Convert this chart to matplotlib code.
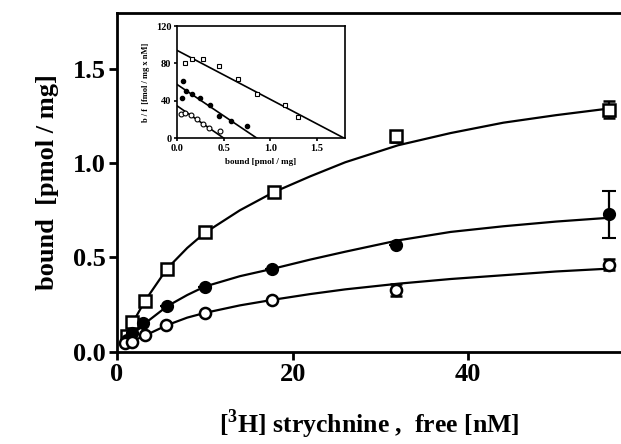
import matplotlib.pyplot as plt

plt.rcParams['font.family'] = ['Liberation Serif', 'DejaVu Serif']
plt.rcParams['font.weight'] = 'bold'
plt.rcParams['mathtext.fontset'] = 'custom'
plt.rcParams['mathtext.rm'] = 'Liberation Serif'
plt.rcParams['mathtext.bf'] = 'Liberation Serif:bold'

# saturation data (free nM vs bound pmol/mg)
sq_x = [1.1, 1.75, 3.2, 5.7, 10, 17.85, 31.8, 56]
sq_y = [0.082, 0.155, 0.27, 0.437, 0.632, 0.845, 1.143, 1.285]
sq_err = [0, 0, 0, 0, 0, 0, 0.03, 0.045]

fc_x = [1.1, 1.75, 3.0, 5.7, 10, 17.7, 31.8, 56]
fc_y = [0.06, 0.10, 0.15, 0.241, 0.345, 0.437, 0.568, 0.728]
fc_err = [0, 0, 0, 0, 0, 0, 0, 0.125]

oc_x = [0.9, 1.75, 3.2, 5.6, 10, 17.7, 31.8, 56]
oc_y = [0.045, 0.05, 0.09, 0.139, 0.204, 0.273, 0.327, 0.462]
oc_err = [0, 0, 0, 0, 0, 0, 0.03, 0.03]

# fitted curves
curve_x = [1.0, 1.75, 3.2, 5.7, 8, 10, 14, 17.8, 22, 26, 32, 38, 44, 50, 56]
sq_curve = [0.07, 0.15, 0.27, 0.44, 0.55, 0.63, 0.75, 0.845, 0.93, 1.005, 1.095, 1.16, 1.215, 1.255, 1.29]
fc_curve = [0.05, 0.09, 0.15, 0.24, 0.30, 0.345, 0.40, 0.44, 0.488, 0.53, 0.59, 0.635, 0.665, 0.69, 0.71]
oc_curve = [0.035, 0.055, 0.085, 0.14, 0.18, 0.205, 0.245, 0.275, 0.305, 0.33, 0.36, 0.385, 0.405, 0.425, 0.44]

# Scatchard inset (bound pmol/mg vs b/f)
sc_sq_x = [0.084, 0.164, 0.276, 0.45, 0.65, 0.86, 1.16, 1.30]
sc_sq_y = [80.7, 85, 85, 77, 63, 47, 35, 22.5]
sc_fc_x = [0.055, 0.065, 0.095, 0.156, 0.25, 0.356, 0.45, 0.575, 0.75]
sc_fc_y = [43, 61, 50, 47.5, 43, 35, 24, 18, 13]
sc_oc_x = [0.047, 0.087, 0.145, 0.21, 0.28, 0.34, 0.465]
sc_oc_y = [26, 27, 25, 20, 15, 11, 8]
sc_sq_line = ([0, 1.79], [94, 0])
sc_fc_line = ([0, 0.855], [57.5, 0])
sc_oc_line = ([0, 0.5], [34.6, 0])

fig = plt.figure(figsize=(6.21, 4.44), dpi=100)
ax = fig.add_axes([0.1884, 0.2083, 0.8116, 0.7635])

for cx, cy in [(curve_x, sq_curve), (curve_x, fc_curve), (curve_x, oc_curve)]:
    ax.plot(cx, cy, color='black', linewidth=1.6, zorder=2)

ax.errorbar(sq_x, sq_y, yerr=sq_err, fmt='s', color='black', mfc='white', mec='black',
            mew=1.8, markersize=8, capsize=4, elinewidth=1.6, capthick=1.6, zorder=3)
ax.errorbar(fc_x, fc_y, yerr=fc_err, fmt='o', color='black', mfc='black', mec='black',
            mew=1.5, markersize=8, capsize=5, elinewidth=1.6, capthick=1.6, zorder=3)
ax.errorbar(oc_x, oc_y, yerr=oc_err, fmt='o', color='black', mfc='white', mec='black',
            mew=1.8, markersize=8, capsize=4, elinewidth=1.6, capthick=1.6, zorder=3)

ax.set_xlim(0, 57.4)
ax.set_ylim(0, 1.8)
ax.set_xticks([0, 20, 40])
ax.set_yticks([0.0, 0.5, 1.0, 1.5])
ax.set_yticklabels(['0.0', '0.5', '1.0', '1.5'])
ax.spines['right'].set_visible(False)
for s in ['left', 'bottom', 'top']:
    ax.spines[s].set_linewidth(2)
ax.tick_params(width=2, length=6, labelsize=19, pad=2)
for lab in ax.get_xticklabels() + ax.get_yticklabels():
    lab.set_fontweight('bold')
ax.set_ylabel('bound  [pmol / mg]', fontsize=19, fontweight='bold', labelpad=10)
ax.set_xlabel(r'[$^{\mathbf{3}}$H] strychnine ,  free [nM]', fontsize=18.5,
              fontweight='bold', labelpad=16)

# inset
ins = fig.add_axes([0.285, 0.689, 0.2705, 0.2523])
ins.plot(*sc_sq_line, color='black', linewidth=1.2)
ins.plot(*sc_fc_line, color='black', linewidth=1.2)
ins.plot(*sc_oc_line, color='black', linewidth=1.2)
ins.plot(sc_sq_x, sc_sq_y, 's', mfc='white', mec='black', mew=0.8, markersize=3.5)
ins.plot(sc_fc_x, sc_fc_y, 'o', mfc='black', mec='black', markersize=3)
ins.plot(sc_oc_x, sc_oc_y, 'o', mfc='white', mec='black', mew=0.8, markersize=3.5)
ins.set_xlim(0, 1.8)
ins.set_ylim(0, 120)
ins.set_xticks([0.0, 0.5, 1.0, 1.5])
ins.set_xticklabels(['0.0', '0.5', '1.0', '1.5'])
ins.set_yticks([0, 40, 80, 120])
for s in ins.spines.values():
    s.set_linewidth(1.2)
ins.tick_params(width=1.2, length=2.5, labelsize=7.5, pad=1.5)
for lab in ins.get_xticklabels() + ins.get_yticklabels():
    lab.set_fontweight('bold')
ins.set_xlabel('bound [pmol / mg]', fontsize=6.5, fontweight='bold', labelpad=4)
ins.set_ylabel('b / f  [fmol / mg x nM]', fontsize=6, fontweight='bold', labelpad=4)

fig.savefig('out.png', dpi=100)
